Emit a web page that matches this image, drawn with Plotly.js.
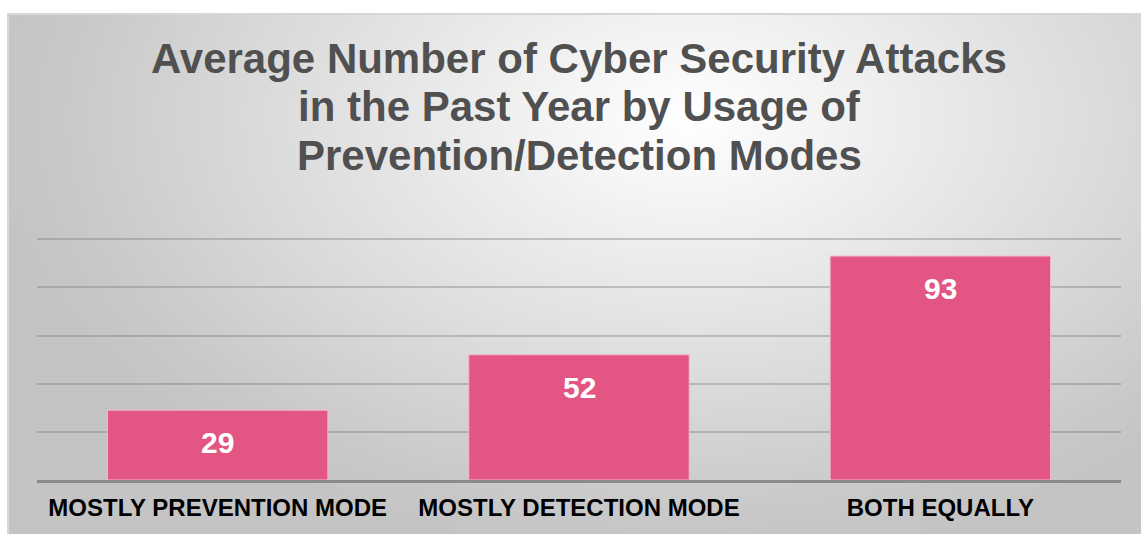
<!DOCTYPE html>
<html>
<head>
<meta charset="utf-8">
<script src="https://cdn.plot.ly/plotly-3.0.1.min.js"></script>
<style>
  html, body { margin: 0; padding: 0; background: #ffffff; width: 1141px; height: 534px; overflow: hidden; }
  #frame {
    position: absolute; left: 7px; top: 13px; width: 1134px; height: 521px;
    box-sizing: border-box;
    border-top: 2px solid #d6d6d6; border-left: 2px solid #d9d9d9;
    background: radial-gradient(ellipse 62% 85% at 60% 20%, #ffffff 0%, #eaeaea 35%, #d8d8d8 65%, #c8c8c8 90%, #c4c4c4 100%);
  }
  #chart { position: absolute; left: 0; top: 0; width: 1141px; height: 534px; }
</style>
</head>
<body>
<div id="frame"></div>
<div id="chart"></div>
<script>
const categories = ["MOSTLY PREVENTION MODE", "MOSTLY DETECTION MODE", "BOTH EQUALLY"];
const values = [29, 52, 93];
const titleLines = [
  "Average Number of Cyber Security Attacks",
  "in the Past Year by Usage of",
  "Prevention/Detection Modes"
];

const barColor = "#e35683";

const trace = {
  type: "bar",
  x: categories,
  y: values,
  marker: { color: barColor, line: { color: "#f4b9cb", width: 1 } },
  hoverinfo: "x+y"
};

const plotH = 242;
const annotations = [];
const titleCenters = [180, 131.5, 83]; // px above top of plot area
titleLines.forEach((t, i) => {
  annotations.push({
    text: "<b>" + t + "</b>", xref: "paper", yref: "paper", x: 0.5, y: 1 + titleCenters[i] / plotH,
    xanchor: "center", yanchor: "middle", showarrow: false,
    font: { family: "Liberation Sans, Arial, sans-serif", size: 42, color: "#505050" }
  });
});
categories.forEach((c, i) => {
  annotations.push({
    text: "<b>" + values[i] + "</b>", x: c, y: values[i], xref: "x", yref: "y",
    yanchor: "top", yshift: -14, showarrow: false,
    font: { family: "Liberation Sans, Arial, sans-serif", size: 30, color: "#ffffff" }
  });
});

const layout = {
  width: 1141, height: 534,
  margin: { l: 37, r: 20, t: 238, b: 54, pad: 0 },
  paper_bgcolor: "rgba(0,0,0,0)",
  plot_bgcolor: "rgba(0,0,0,0)",
  bargap: 0.39,
  showlegend: false,
  xaxis: {
    type: "category",
    showline: true, linecolor: "#8a8a8a", linewidth: 3,
    showgrid: false, ticks: "", ticklabelstandoff: 4,
    tickfont: { family: "Liberation Sans, Arial, sans-serif", size: 24, color: "#000000", weight: "bold" },
    fixedrange: true
  },
  yaxis: {
    range: [0, 100.5], tickvals: [20, 40, 60, 80, 100], showticklabels: false,
    showgrid: true, gridcolor: "rgba(120,120,120,0.38)", gridwidth: 2,
    zeroline: false, showline: false, ticks: "",
    fixedrange: true
  },
  annotations: annotations
};

Plotly.newPlot("chart", [trace], layout, { displayModeBar: false, staticPlot: true });
</script>
</body>
</html>
